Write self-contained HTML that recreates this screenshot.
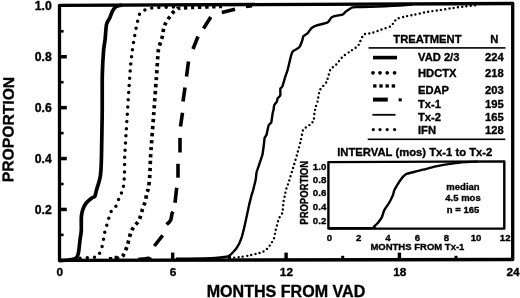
<!DOCTYPE html>
<html><head><meta charset="utf-8"><title>Figure</title>
<style>html,body{margin:0;padding:0;background:#fff;overflow:hidden}svg{display:block}text{font-family:"Liberation Sans",Arial,sans-serif;font-weight:bold;fill:#000;stroke:#000;stroke-width:.35px;stroke-linejoin:round}</style></head><body>
<svg width="520" height="298" viewBox="0 0 520 298">
<rect width="520" height="298" fill="#fff"/>
<path d="M59.5,5.3 L512.7,3.5 L512.7,259.5 L59.5,260.4 Z" fill="none" stroke="#000" stroke-width="3.3" stroke-linejoin="round"/>
<rect x="60" y="233.6" width="3.6" height="2.6"/>
<rect x="60" y="207.7" width="6.8" height="3.5"/>
<rect x="60" y="182.7" width="3.6" height="2.6"/>
<rect x="60" y="156.8" width="6.8" height="3.5"/>
<rect x="60" y="131.8" width="3.6" height="2.6"/>
<rect x="60" y="105.9" width="6.8" height="3.5"/>
<rect x="60" y="80.9" width="3.6" height="2.6"/>
<rect x="60" y="55.0" width="6.8" height="3.5"/>
<rect x="60" y="30.0" width="3.6" height="2.6"/>
<rect x="114.6" y="255.8" width="3" height="4"/>
<rect x="171.0" y="252.6" width="3.4" height="7"/>
<rect x="227.9" y="255.8" width="3" height="4"/>
<rect x="284.4" y="252.6" width="3.4" height="7"/>
<rect x="341.2" y="255.8" width="3" height="4"/>
<rect x="397.7" y="252.6" width="3.4" height="7"/>
<rect x="454.5" y="255.8" width="3" height="4"/>
<path d="M60.0,260.6 C61.1,260.5 66.1,260.2 68.0,260.0 C69.9,259.8 72.8,259.4 74.0,259.0 C75.2,258.6 76.2,258.2 76.8,257.3 C77.4,256.4 78.2,254.3 78.6,252.0 C79.0,249.7 79.7,242.7 80.0,240.0 C80.3,237.3 81.0,234.0 81.2,232.0 C81.4,230.0 81.3,227.1 81.3,225.0 C81.3,222.9 81.2,218.3 81.4,216.3 C81.6,214.3 82.1,211.6 82.7,209.8 C83.3,208.0 85.0,204.5 86.2,203.0 C87.4,201.5 90.3,199.1 91.5,198.2 C92.7,197.3 94.3,197.2 94.9,196.2 C95.5,195.2 95.8,192.7 96.3,190.8 C96.8,188.9 98.3,184.3 98.9,182.2 C99.5,180.1 100.2,177.6 100.5,175.0 C100.8,172.4 101.2,165.9 101.3,162.6 C101.4,159.3 101.5,156.7 101.6,150.0 C101.7,143.3 102.1,122.7 102.2,112.7 C102.3,102.7 102.1,83.3 102.3,75.0 C102.5,66.7 103.2,55.0 103.6,50.3 C104.0,45.6 104.7,42.9 105.1,39.5 C105.5,36.1 105.9,27.4 106.5,24.5 C107.1,21.6 109.1,19.3 109.9,17.5 C110.7,15.7 111.8,12.3 112.6,10.8 C113.4,9.3 114.9,7.3 116.0,6.6 C117.1,5.9 120.3,5.5 121.0,5.3" fill="none" stroke="#000" stroke-width="3.7" stroke-linejoin="round" stroke-linecap="round"/>
<path d="M80.0,258.2 C81.5,258.1 86.1,257.8 88.8,257.6 C91.5,257.4 94.3,257.5 96.0,257.0 C97.7,256.5 98.3,255.5 99.0,254.5 C99.7,253.5 99.7,252.6 100.3,251.0 C100.9,249.4 101.9,247.2 102.5,245.0 C103.1,242.8 103.3,240.0 103.8,237.6 C104.2,235.2 104.6,232.8 105.2,230.3 C105.8,227.8 106.9,224.9 107.6,222.6 C108.3,220.3 108.6,218.6 109.3,216.5 C110.0,214.4 110.8,211.8 112.0,209.9 C113.2,208.0 115.5,207.1 116.7,205.2 C117.9,203.3 118.1,200.8 118.9,198.6 C119.8,196.4 121.0,194.3 121.8,192.1 C122.6,189.9 123.2,188.2 123.6,185.4 C124.0,182.6 124.2,178.9 124.4,175.1 C124.6,171.3 124.5,166.8 124.6,162.6 C124.7,158.4 124.2,164.2 125.1,150.0 C125.9,135.8 128.6,92.9 129.7,77.5 C130.8,62.1 130.8,63.6 131.4,57.8 C132.0,52.0 132.7,47.7 133.5,42.7 C134.3,37.7 135.4,31.6 136.2,27.7 C137.0,23.8 137.4,22.1 138.1,19.5 C138.8,16.9 139.1,14.1 140.6,12.4 C142.1,10.7 144.7,10.1 146.8,9.3 C149.0,8.5 151.0,8.1 153.5,7.8 C156.0,7.5 158.2,7.4 162.0,7.3 C165.8,7.2 173.7,7.0 176.0,7.0" fill="none" stroke="#000" stroke-width="3.5" stroke-linejoin="round" stroke-linecap="round" stroke-dasharray="0 7.2"/>
<path d="M109.0,258.9 C110.7,258.8 116.8,258.6 119.0,258.3 C121.2,258.0 121.5,257.5 122.3,256.8 C123.1,256.1 123.1,255.6 123.9,253.9 C124.7,252.2 126.1,249.3 126.9,246.9 C127.8,244.5 128.3,241.8 129.0,239.3 C129.7,236.8 130.2,234.0 131.1,231.8 C132.0,229.6 133.2,227.7 134.5,225.9 C135.8,224.1 137.6,222.8 138.7,220.9 C139.8,219.0 140.2,216.8 140.9,214.6 C141.6,212.4 142.2,209.9 143.0,207.6 C143.8,205.3 144.9,203.0 145.5,200.6 C146.1,198.2 146.3,195.2 146.8,193.0 C147.3,190.8 148.0,190.7 148.5,187.7 C149.0,184.7 149.5,179.3 149.8,175.1 C150.1,170.9 150.1,166.8 150.3,162.6 C150.5,158.4 150.4,158.3 151.0,150.0 C151.6,141.7 152.9,125.1 153.8,113.0 C154.7,100.9 155.7,86.9 156.4,77.5 C157.1,68.1 157.4,61.4 157.8,56.6 C158.2,51.9 158.1,51.5 158.6,49.0 C159.1,46.5 160.1,43.9 160.8,41.5 C161.5,39.1 162.4,36.9 162.9,34.5 C163.4,32.1 163.1,29.5 163.8,27.2 C164.5,24.9 165.9,22.8 167.2,20.7 C168.4,18.6 169.8,16.4 171.3,14.5 C172.8,12.7 174.2,10.7 176.2,9.6 C178.1,8.5 175.4,8.4 183.0,7.9 C190.6,7.4 215.5,6.7 222.0,6.4" fill="none" stroke="#000" stroke-width="3.7" stroke-linejoin="round" stroke-dasharray="3.3 3.7"/>
<path d="M154.3,246.0 L162.7,235.3" fill="none" stroke="#000" stroke-width="3.6" stroke-linejoin="round"/>
<path d="M166.6,224.5 C167.3,223.8 169.7,222.0 170.6,220.2 C171.5,218.4 171.5,215.3 171.9,213.9 C172.3,212.5 172.8,212.0 173.0,211.6" fill="none" stroke="#000" stroke-width="3.6" stroke-linejoin="round"/>
<path d="M175.0,202.8 L176.7,187.7" fill="none" stroke="#000" stroke-width="3.6" stroke-linejoin="round"/>
<path d="M178.0,177.7 L178.0,163.8" fill="none" stroke="#000" stroke-width="3.6" stroke-linejoin="round"/>
<path d="M180.0,152.5 L180.0,137.9" fill="none" stroke="#000" stroke-width="3.6" stroke-linejoin="round"/>
<path d="M180.5,126.5 L182.5,112.7" fill="none" stroke="#000" stroke-width="3.6" stroke-linejoin="round"/>
<path d="M183.0,101.4 L185.0,87.6" fill="none" stroke="#000" stroke-width="3.6" stroke-linejoin="round"/>
<path d="M186.5,76.5 L188.5,61.6" fill="none" stroke="#000" stroke-width="3.6" stroke-linejoin="round"/>
<path d="M193.0,49.0 L198.0,36.5" fill="none" stroke="#000" stroke-width="3.6" stroke-linejoin="round"/>
<path d="M203.5,28.5 L210.8,17.0" fill="none" stroke="#000" stroke-width="3.6" stroke-linejoin="round"/>
<path d="M221.8,12.6 L235.0,9.3" fill="none" stroke="#000" stroke-width="3.6" stroke-linejoin="round"/>
<path d="M246.0,6.5 L252.0,5.6" fill="none" stroke="#000" stroke-width="3.6" stroke-linejoin="round"/>
<path d="M138,258.9 L145,258.2 L148.5,257.6 L151.5,258.9" fill="none" stroke="#000" stroke-width="2.2" stroke-linejoin="round"/>
<path d="M176.0,258.8 C178.0,258.8 196.8,258.6 200.0,258.5 C203.2,258.4 212.6,258.2 215.0,258.0 C217.4,257.8 226.7,257.0 228.5,256.2 C230.3,255.4 235.4,249.8 236.5,248.3 C237.6,246.8 240.8,239.9 241.5,237.8 C242.2,235.7 244.7,225.4 245.3,222.7 C245.9,220.0 248.6,207.4 249.1,205.1 C249.6,202.8 251.3,196.3 251.6,195.0 C251.9,193.7 252.9,191.3 253.2,190.0 C253.5,188.7 255.4,181.0 255.7,179.5 C256.0,178.0 256.3,173.6 256.6,172.3 C256.9,171.0 258.8,165.7 259.3,164.2 C259.8,162.7 262.0,156.4 262.4,154.8 C262.8,153.2 263.7,145.9 263.9,144.5 C264.1,143.1 264.4,138.8 264.6,138.0 C264.8,137.2 266.3,135.7 266.6,134.6 C266.9,133.5 268.2,126.4 268.6,125.4 C269.0,124.4 271.0,123.3 271.3,122.3 C271.6,121.3 272.5,114.1 272.7,113.0 C272.9,111.9 273.5,110.2 273.6,109.5 C273.7,108.8 274.0,105.7 274.3,105.0 C274.6,104.3 276.6,102.1 276.9,101.5 C277.2,100.9 277.4,98.7 277.7,98.2 C278.0,97.7 280.1,96.2 280.3,95.4 C280.5,94.6 280.2,89.1 280.4,88.4 C280.6,87.7 281.9,87.6 282.3,86.6 C282.7,85.6 284.9,78.1 285.3,76.7 C285.7,75.3 287.2,71.6 287.6,70.0 C288.0,68.4 290.2,59.2 290.6,57.6 C291.0,56.0 292.2,52.1 292.9,51.3 C293.6,50.5 298.3,48.4 299.1,47.5 C299.9,46.6 302.1,40.9 302.4,40.0 C302.7,39.1 302.8,37.1 303.2,36.5 C303.6,35.9 306.8,34.0 307.5,33.3 C308.2,32.6 310.9,28.6 311.6,28.0 C312.3,27.4 314.6,26.1 316.0,25.6 C317.4,25.1 326.5,23.1 327.8,22.4 C329.1,21.7 330.7,17.7 332.0,17.0 C333.3,16.3 341.8,14.8 342.9,14.3 C344.0,13.9 345.1,12.1 345.8,11.6 C346.5,11.1 350.5,8.2 351.4,7.8 C352.2,7.4 354.4,7.2 356.0,7.1 C357.6,7.0 367.6,7.0 370.0,6.9 C372.4,6.8 382.5,6.4 385.0,6.3 C387.5,6.2 397.8,5.6 400.0,5.5 C402.2,5.4 411.0,4.7 412.0,4.6" fill="none" stroke="#000" stroke-width="2.4" stroke-linejoin="round"/>
<path d="M230.0,258.0 C231.0,257.9 238.5,257.2 240.3,257.0 C242.1,256.8 246.7,256.0 248.4,255.6 C250.1,255.2 256.3,253.8 257.7,253.4 C259.1,253.0 261.6,252.4 262.5,252.0 C263.4,251.6 265.6,250.1 266.3,249.5 C267.0,248.9 268.7,247.0 269.2,246.3 C269.7,245.6 271.0,243.5 271.5,242.8 C272.0,242.1 273.4,240.4 273.8,239.2 C274.2,238.0 275.2,232.4 275.5,231.0 C275.8,229.6 276.6,226.6 276.9,225.6 C277.2,224.6 277.8,221.9 278.1,221.0 C278.4,220.1 279.4,217.7 279.8,216.9 C280.2,216.1 282.1,213.7 282.4,212.9 C282.7,212.1 282.8,209.5 282.9,208.6 C283.0,207.7 283.2,204.9 283.3,204.0 C283.4,203.1 283.6,200.5 283.8,199.6 C284.0,198.7 284.8,196.0 285.0,195.0 C285.2,194.0 285.6,191.5 286.0,190.0 C286.4,188.5 288.6,182.6 289.3,180.4 C290.0,178.2 292.3,170.3 293.1,167.8 C293.9,165.3 296.1,157.8 296.9,155.2 C297.6,152.6 300.0,143.9 300.6,141.4 C301.2,138.9 302.5,131.2 303.1,129.8 C303.7,128.4 305.8,127.5 306.5,127.0 C307.2,126.5 309.7,125.0 310.4,124.4 C311.1,123.8 313.2,121.7 313.6,120.6 C314.0,119.5 314.2,114.9 314.4,113.5 C314.6,112.1 315.5,107.9 315.8,106.7 C316.1,105.5 317.1,103.2 317.5,101.6 C317.9,100.0 318.9,92.3 319.8,90.3 C320.7,88.3 325.4,84.0 326.5,82.0 C327.6,80.0 329.3,71.6 330.3,69.8 C331.3,68.0 335.1,65.7 336.3,64.4 C337.5,63.1 341.0,58.3 342.4,57.0 C343.8,55.7 348.2,52.7 349.8,51.6 C351.4,50.5 356.9,47.0 357.9,46.0 C358.9,45.0 359.3,43.1 359.9,42.0 C360.5,40.9 362.6,35.4 363.8,34.5 C365.0,33.6 370.1,33.5 371.9,33.0 C373.6,32.5 379.4,30.3 381.3,29.6 C383.2,28.9 389.5,27.0 390.8,26.2 C392.1,25.4 393.5,22.7 394.1,22.0 C394.7,21.3 395.8,19.3 396.8,18.8 C397.8,18.3 402.4,17.1 404.2,16.7 C405.9,16.3 411.9,15.2 414.3,14.7 C416.7,14.2 425.1,12.3 427.7,11.8 C430.3,11.3 437.8,10.4 440.3,10.0 C442.8,9.6 450.4,8.4 452.9,8.0 C455.4,7.6 462.9,6.6 465.4,6.3 C467.9,6.0 476.7,5.1 478.0,5.0" fill="none" stroke="#000" stroke-width="2.4" stroke-linejoin="round" stroke-linecap="round" stroke-dasharray="0 4.3"/>
<text x="51.8" y="10.0" font-size="12.2" text-anchor="end">1.0</text>
<text x="51.8" y="60.9" font-size="12.2" text-anchor="end">0.8</text>
<text x="51.8" y="111.8" font-size="12.2" text-anchor="end">0.6</text>
<text x="51.8" y="162.6" font-size="12.2" text-anchor="end">0.4</text>
<text x="51.8" y="213.5" font-size="12.2" text-anchor="end">0.2</text>
<text x="59.7" y="276.3" font-size="11.8" text-anchor="middle">0</text>
<text x="173.0" y="276.1" font-size="11.8" text-anchor="middle">6</text>
<text x="286.4" y="275.9" font-size="11.8" text-anchor="middle">12</text>
<text x="399.7" y="275.8" font-size="11.8" text-anchor="middle">18</text>
<text x="513.0" y="275.6" font-size="11.8" text-anchor="middle">24</text>
<text x="206.7" y="296.5" font-size="15.6" textLength="158.6" lengthAdjust="spacingAndGlyphs">MONTHS FROM VAD</text>
<text transform="translate(13.3,182.2) rotate(-89.6)" font-size="15.6" textLength="105.4" lengthAdjust="spacingAndGlyphs">PROPORTION</text>
<text x="393.3" y="42.8" font-size="11.2" textLength="68.2" lengthAdjust="spacingAndGlyphs">TREATMENT</text>
<text x="490.2" y="42.8" font-size="11.2">N</text>
<rect x="368.5" y="47.1" width="137" height="1.6"/>
<rect x="367.7" y="138.5" width="137.6" height="1.6"/>
<text x="418" y="61.4" font-size="11.2">VAD 2/3</text>
<text x="503.7" y="61.4" font-size="11.2" text-anchor="end">224</text>
<text x="418" y="77.4" font-size="11.2">HDCTX</text>
<text x="503.7" y="77.4" font-size="11.2" text-anchor="end">218</text>
<text x="418" y="93.8" font-size="11.2">EDAP</text>
<text x="503.7" y="93.8" font-size="11.2" text-anchor="end">203</text>
<text x="418" y="107.8" font-size="11.2">Tx-1</text>
<text x="503.7" y="107.8" font-size="11.2" text-anchor="end">195</text>
<text x="418" y="120.8" font-size="11.2">Tx-2</text>
<text x="503.7" y="120.8" font-size="11.2" text-anchor="end">165</text>
<text x="418" y="134.2" font-size="11.2">IFN</text>
<text x="503.7" y="134.2" font-size="11.2" text-anchor="end">128</text>
<rect x="373" y="55.8" width="24" height="3.6"/>
<circle cx="373" cy="72.8" r="1.85"/>
<circle cx="380" cy="72.8" r="1.85"/>
<circle cx="387.2" cy="72.8" r="1.85"/>
<circle cx="394.6" cy="72.8" r="1.85"/>
<rect x="373.1" y="84.3" width="3.4" height="3.3"/>
<rect x="379.3" y="84.3" width="3.4" height="3.3"/>
<rect x="385.5" y="84.3" width="3.4" height="3.3"/>
<rect x="391.7" y="84.3" width="3.4" height="3.3"/>
<rect x="373" y="97.6" width="14.8" height="4"/>
<rect x="398.6" y="98.3" width="3.1" height="3.1"/>
<rect x="372.4" y="113.9" width="23.1" height="1.8"/>
<circle cx="373.3" cy="129.6" r="1.6"/>
<circle cx="380" cy="129.6" r="1.6"/>
<circle cx="387.2" cy="129.6" r="1.6"/>
<circle cx="394.6" cy="129.6" r="1.6"/>
<text x="337.2" y="155.5" font-size="11.2" textLength="155.2" lengthAdjust="spacingAndGlyphs">INTERVAL (mos) Tx-1 to Tx-2</text>
<path d="M328.4,162.1 L504.3,161.4 L504.3,228.6 L328.4,228.5 Z" fill="none" stroke="#000" stroke-width="2.4" stroke-linejoin="round"/>
<path d="M329.0,228.2 C334.7,228.2 365.7,228.4 371.7,228.2 C377.7,228.0 373.2,227.2 374.0,226.5 C374.8,225.8 377.0,223.9 378.0,222.7 C379.0,221.5 380.9,219.3 381.7,217.6 C382.5,215.9 383.3,212.1 384.3,210.1 C385.3,208.1 388.1,204.5 389.3,202.5 C390.5,200.5 392.3,196.6 393.0,195.0 C393.7,193.4 393.3,192.3 394.3,190.3 C395.3,188.3 398.8,182.3 400.3,180.2 C401.8,178.1 404.0,175.4 405.8,174.3 C407.6,173.2 411.6,172.6 413.9,172.0 C416.2,171.4 420.4,170.4 423.2,169.7 C426.0,169.0 431.6,167.4 434.7,166.7 C437.8,166.0 443.2,164.9 446.3,164.4 C449.4,163.9 453.7,163.1 457.9,162.7 C462.1,162.3 475.3,161.7 478.0,161.6" fill="none" stroke="#000" stroke-width="2.4" stroke-linejoin="round"/>
<text x="326.3" y="170.1" font-size="9.7" text-anchor="end">1.0</text>
<text x="326.3" y="183.4" font-size="9.7" text-anchor="end">0.8</text>
<text x="326.3" y="196.4" font-size="9.7" text-anchor="end">0.6</text>
<text x="326.3" y="209.8" font-size="9.7" text-anchor="end">0.4</text>
<text x="326.3" y="223.7" font-size="9.7" text-anchor="end">0.2</text>
<text x="329.3" y="240.6" font-size="9.6" text-anchor="middle">0</text>
<text x="358.6" y="240.6" font-size="9.6" text-anchor="middle">2</text>
<text x="388" y="240.6" font-size="9.6" text-anchor="middle">4</text>
<text x="417.4" y="240.6" font-size="9.6" text-anchor="middle">6</text>
<text x="446.3" y="240.6" font-size="9.6" text-anchor="middle">8</text>
<text x="476" y="240.6" font-size="9.6" text-anchor="middle">10</text>
<text x="505.2" y="240.6" font-size="9.6" text-anchor="middle">12</text>
<text x="370.4" y="250.1" font-size="9.8" textLength="94" lengthAdjust="spacingAndGlyphs">MONTHS FROM Tx-1</text>
<text transform="translate(308.3,224.7) rotate(-90)" font-size="10.4" textLength="63.8" lengthAdjust="spacingAndGlyphs">PROPORTION</text>
<text x="463" y="189.8" font-size="9.5" text-anchor="middle">median</text>
<text x="463" y="201.4" font-size="9.5" text-anchor="middle">4.5 mos</text>
<text x="463" y="212.5" font-size="9.5" text-anchor="middle">n = 165</text>
</svg></body></html>
